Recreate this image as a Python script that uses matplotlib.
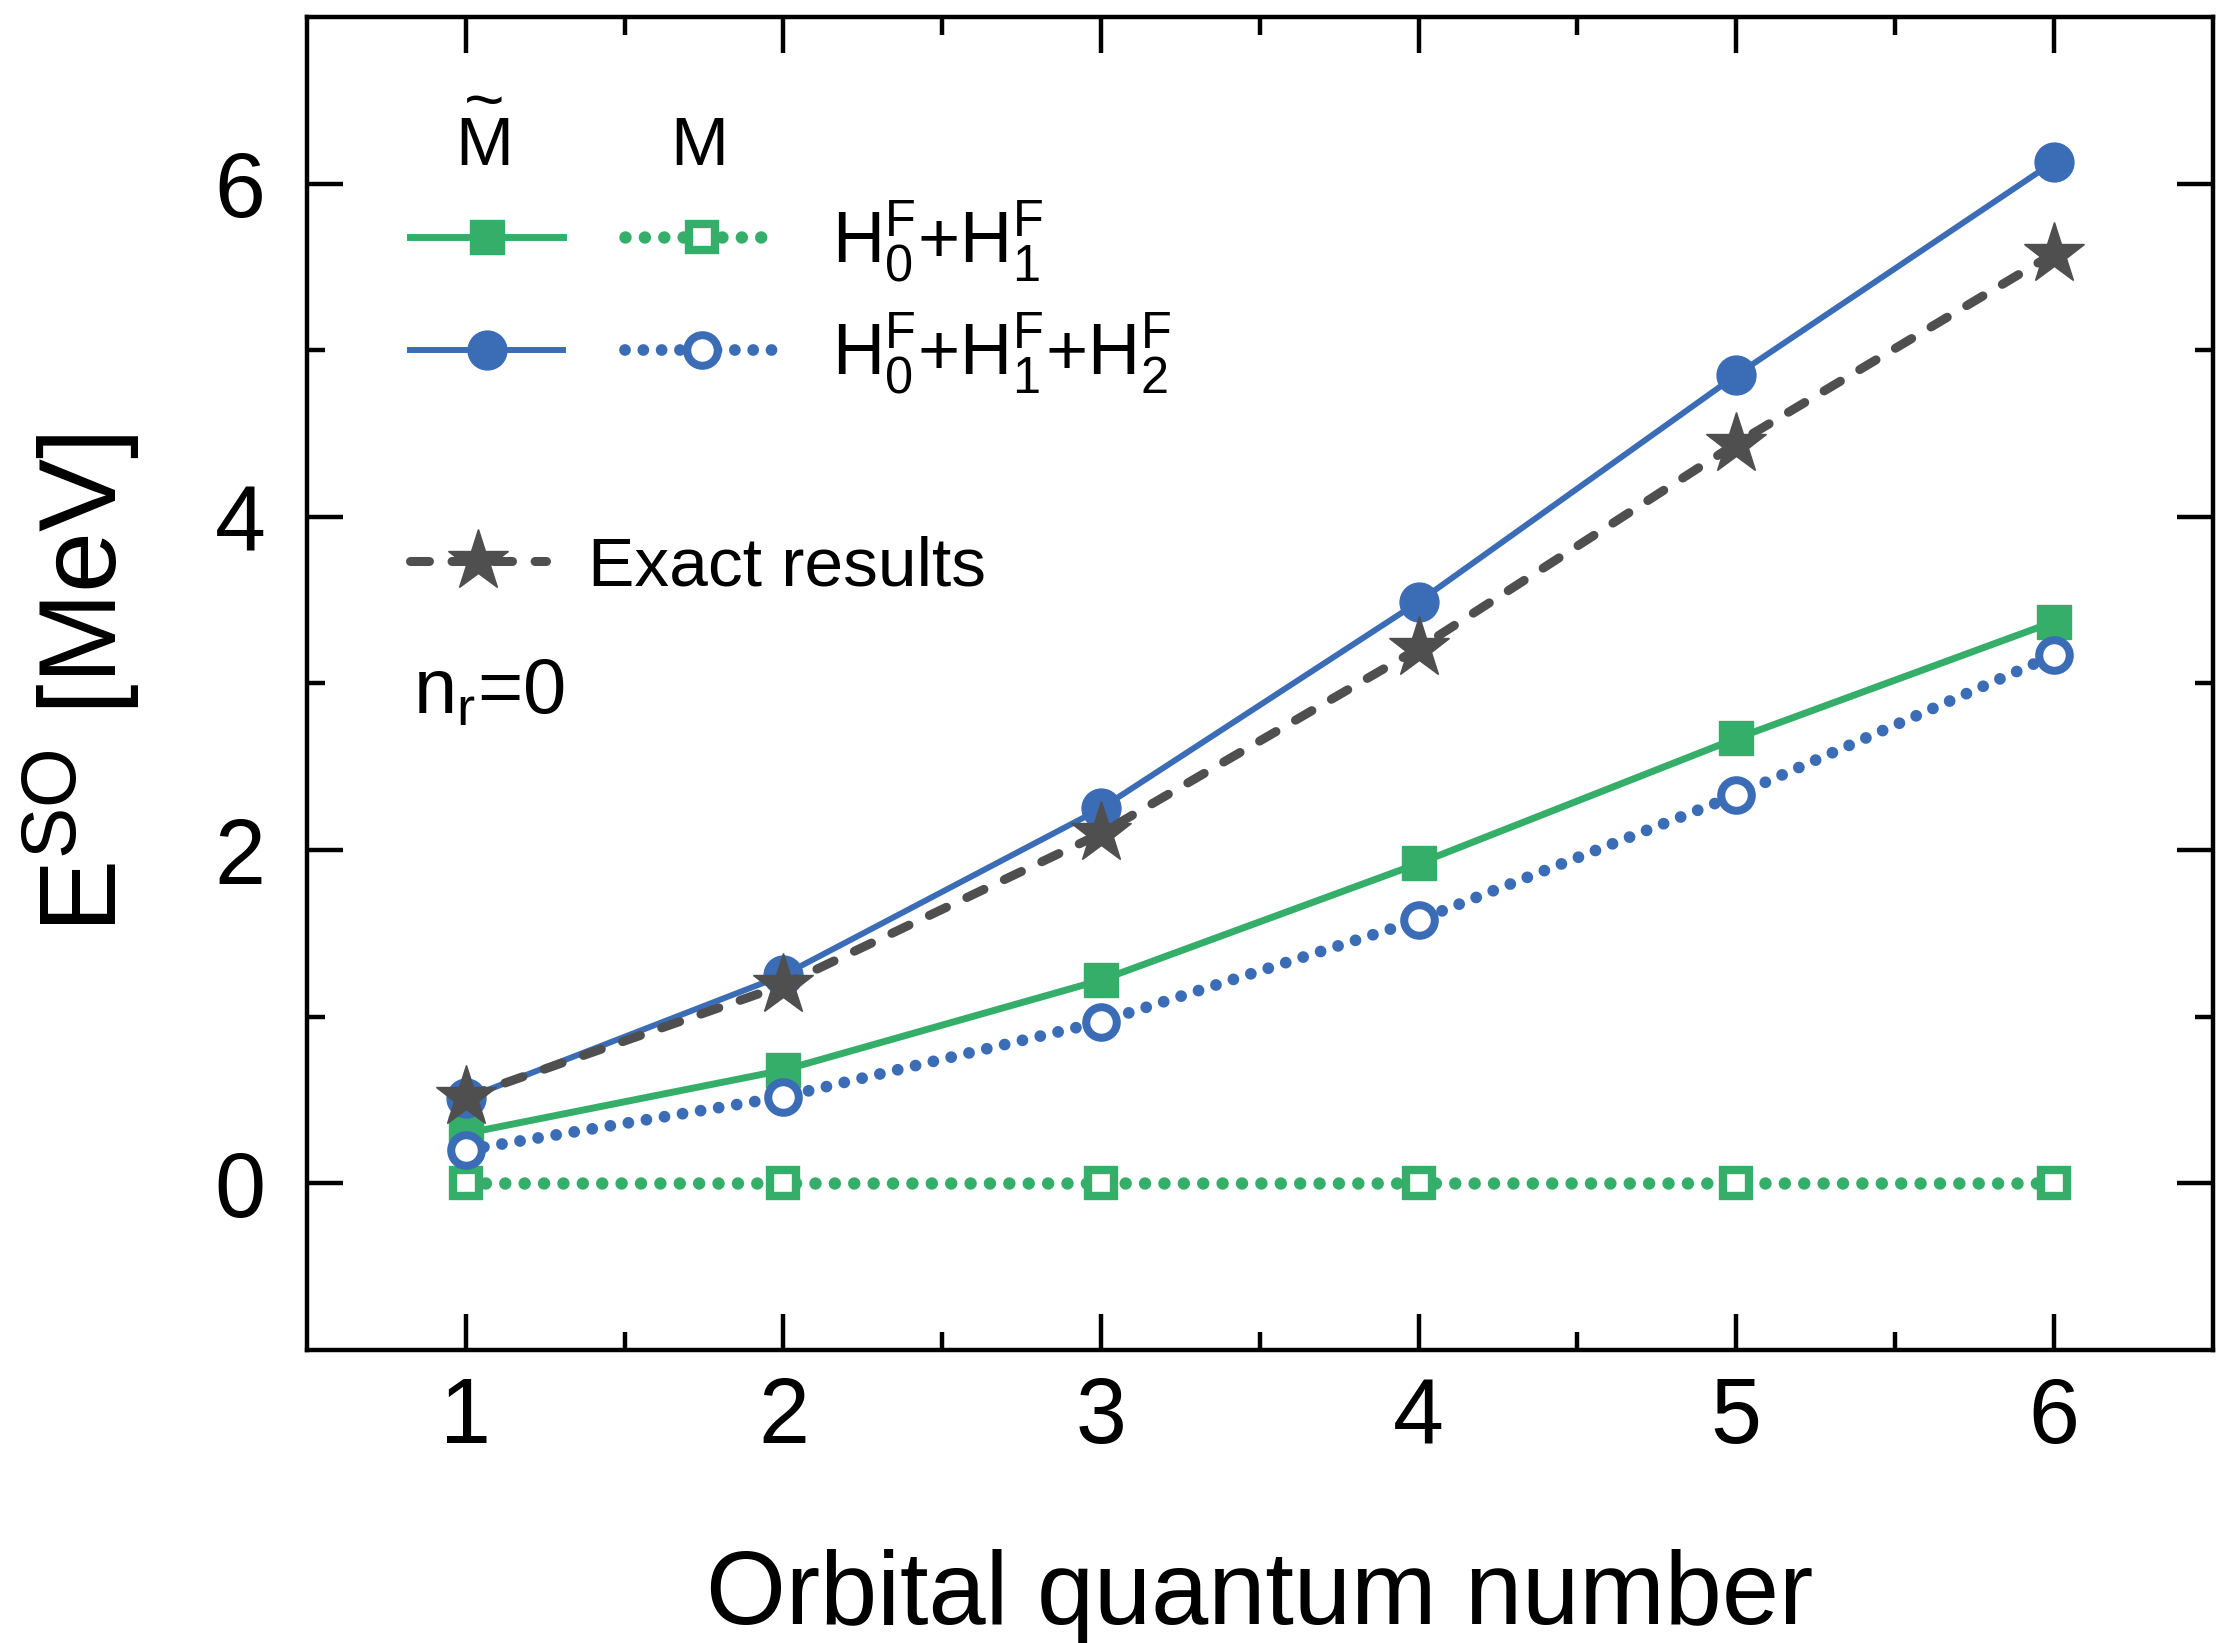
import matplotlib
matplotlib.use("Agg")
import matplotlib.pyplot as plt
from matplotlib.lines import Line2D
from matplotlib.legend_handler import HandlerTuple

plt.rcParams['font.family'] = ['Liberation Sans', 'DejaVu Sans']
plt.rcParams['mathtext.fontset'] = 'custom'
plt.rcParams['mathtext.rm'] = 'Liberation Sans'
plt.rcParams['mathtext.it'] = 'Liberation Sans'
plt.rcParams['mathtext.bf'] = 'Liberation Sans:bold'

# data
l_vals = [1, 2, 3, 4, 5, 6]
mt_h01 = [0.30, 0.68, 1.22, 1.92, 2.67, 3.37]      # M~, H0+H1 (filled squares)
m_h01 = [0.0, 0.0, 0.0, 0.0, 0.0, 0.0]             # M, H0+H1 (open squares)
mt_h012 = [0.51, 1.25, 2.25, 3.49, 4.85, 6.13]     # M~, H0+H1+H2 (filled circles)
m_h012 = [0.20, 0.52, 0.97, 1.58, 2.33, 3.17]      # M, H0+H1+H2 (open circles)
exact = [0.52, 1.19, 2.10, 3.21, 4.44, 5.58]       # exact results (stars)

green = '#35ae6a'
blue = '#3b6cb6'
grey = '#4f4f4f'

fig = plt.figure(figsize=(22.17, 16.43), dpi=100)
ax = fig.add_axes([0.1385, 0.1783, 0.8595, 0.8114])

dot = (0, (0.001, 1.55))
dash = (0, (2.1, 2.5))

# styles
st_g_open = dict(linestyle=dot, dash_capstyle='round', color=green, lw=9,
                 marker='s', ms=19, mfc='white', mec=green, mew=6)
st_g_fill = dict(linestyle='-', color=green, lw=5, marker='s', ms=24, mec=green, mew=1)
st_b_open = dict(linestyle=dot, dash_capstyle='round', color=blue, lw=8.5,
                 marker='o', ms=22, mfc='white', mec=blue, mew=5.8)
st_b_fill = dict(linestyle='-', color=blue, lw=4.3, marker='o', ms=28, mec=blue, mew=1)
st_ex = dict(linestyle=dash, dash_capstyle='round', color=grey, lw=6.5,
             marker='*', ms=46, mec=grey, mew=1)

ax.plot(l_vals, m_h01, zorder=3, **st_g_open)
ax.plot(l_vals, mt_h01, zorder=4, **st_g_fill)
ax.plot(l_vals, m_h012, zorder=5, **st_b_open)
ax.plot(l_vals, mt_h012, zorder=6, **st_b_fill)
ax.plot(l_vals, exact, zorder=7, **st_ex)

ax.set_xlim(0.5, 6.5)
ax.set_ylim(-1, 7)
ax.set_xticks(l_vals)
ax.set_xticks([1.5, 2.5, 3.5, 4.5, 5.5], minor=True)
ax.set_yticks([0, 2, 4, 6])
ax.set_yticks([1, 3, 5], minor=True)
ax.tick_params(which='both', direction='in', top=True, right=True, width=3.2)
ax.tick_params(which='major', length=26, labelsize=66)
ax.tick_params(which='minor', length=13)
ax.tick_params(axis='x', which='major', pad=19)
ax.tick_params(axis='y', which='major', pad=30)
for s in ax.spines.values():
    s.set_linewidth(3.2)

ax.set_xlabel('Orbital quantum number', fontsize=74, labelpad=62)
ax.set_ylabel(r'$\mathregular{E^{SO}}$ [MeV]', fontsize=79, labelpad=52)

# legend: each entry shows the M~ handle and the M handle side by side
h_g = (Line2D([], [], **st_g_fill), Line2D([], [], **st_g_open))
h_b = (Line2D([], [], **st_b_fill), Line2D([], [], **st_b_open))
leg1 = ax.legend([h_g, h_b],
                 [r'$\mathregular{H_0^F}$+$\mathregular{H_1^F}$',
                  r'$\mathregular{H_0^F}$+$\mathregular{H_1^F}$+$\mathregular{H_2^F}$'],
                 handler_map={tuple: HandlerTuple(ndivide=None, pad=0.85)},
                 loc='upper left', bbox_to_anchor=(0.054, 0.864), frameon=False,
                 fontsize=52, handlelength=5.1, handletextpad=0.75,
                 labelspacing=0.35, borderpad=0, borderaxespad=0)
ax.add_artist(leg1)

h_ex = Line2D([], [], **st_ex)
ax.legend([h_ex], ['Exact results'], loc='upper left', bbox_to_anchor=(0.054, 0.611),
          frameon=False, fontsize=50, handlelength=1.96, handletextpad=0.6,
          borderpad=0, borderaxespad=0)

# column headers (tilde set on a line of its own above the M)
ax.text(0.093, 0.889, '~\nM', transform=ax.transAxes, fontsize=50, ha='center',
        va='baseline', multialignment='center', linespacing=0.55)
ax.text(0.206, 0.889, 'M', transform=ax.transAxes, fontsize=50, ha='center', va='baseline')
ax.text(0.0555, 0.477, r'$\mathregular{n_r}$=0', transform=ax.transAxes, fontsize=56,
        ha='left', va='baseline')

fig.savefig('out.png', dpi=100)
